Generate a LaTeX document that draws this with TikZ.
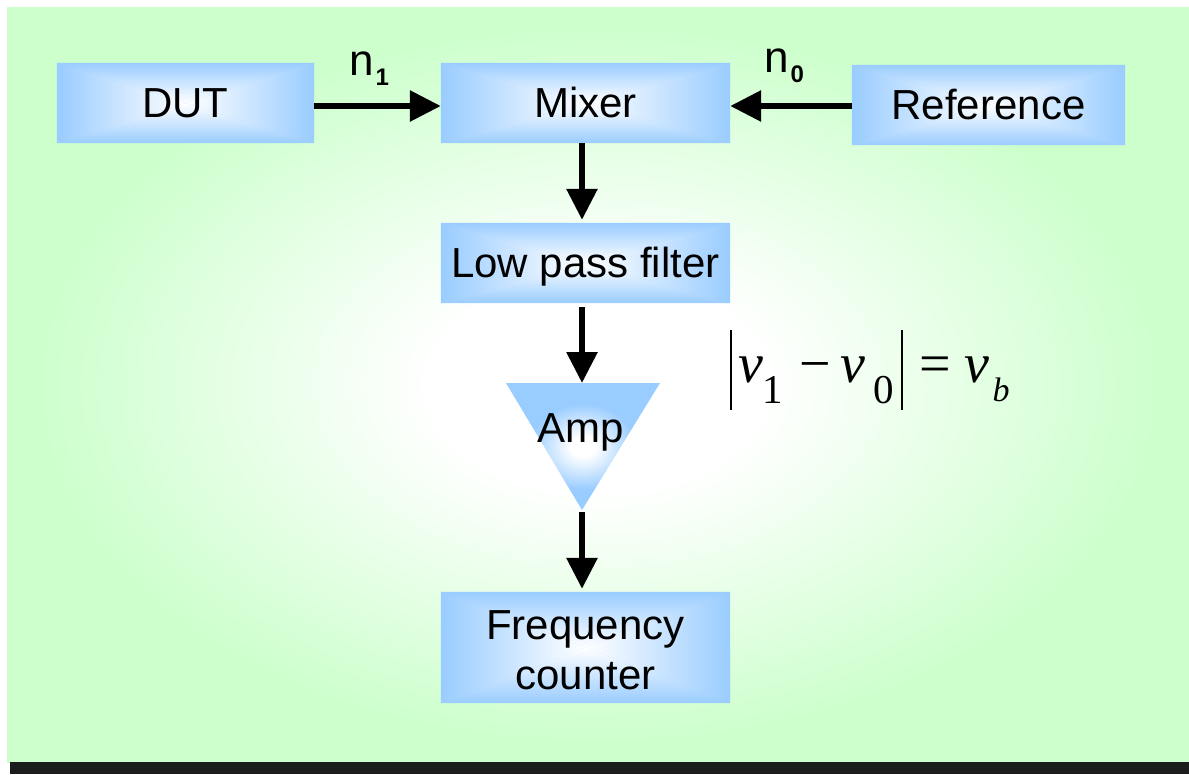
\documentclass[tikz,border=0pt]{standalone}
\usepackage{fontspec}
\setmainfont{Liberation Sans}
\newfontfamily\tnr{Liberation Serif}
\usetikzlibrary{arrows.meta}
\definecolor{bggreen}{HTML}{CCFFCC}
\definecolor{boxblue}{HTML}{99CCFF}
\definecolor{barblack}{HTML}{1C1C1C}
\pgfdeclareradialshading{bggrad}{\pgfpoint{0bp}{0bp}}{color(0bp)=(white); color(7bp)=(white); color(24bp)=(bggreen); color(50bp)=(bggreen)}
\pgfdeclareradialshading{ampgrad}{\pgfpoint{0bp}{0bp}}{color(0bp)=(white); color(4bp)=(white); color(17bp)=(boxblue); color(50bp)=(boxblue)}
\pgfdeclarelayer{back}
\pgfdeclarelayer{boxes}
\pgfsetlayers{back,boxes,main}
\newcommand\boxshade[1]{%
  \fill[boxblue] (#1.north west) rectangle (#1.south east);
  \shade[left color=boxblue, right color=white] (#1.north west) -- (#1.center) -- (#1.south west) -- cycle;
  \shade[left color=white, right color=boxblue] (#1.north east) -- (#1.center) -- (#1.south east) -- cycle;
  \shade[top color=white, bottom color=boxblue] (#1.south west) -- (#1.center) -- (#1.south east) -- cycle;
  \shade[top color=boxblue, bottom color=white] (#1.north west) -- (#1.center) -- (#1.north east) -- cycle;
}
\tikzset{
  gradbox/.style={inner sep=0pt, font=\fontsize{42}{50}\selectfont},
  oneline/.style={text height=30pt, text depth=2pt},
  arr/.style={line width=6pt, -{Triangle[length=31pt,width=30pt]}},
  lbl/.style={inner sep=0pt, anchor=base west, font=\fontsize{44}{50}\selectfont},
  eqbig/.style={inner sep=0pt, anchor=base, font=\tnr\fontsize{56}{60}\selectfont},
  eqsub/.style={inner sep=0pt, anchor=base, font=\tnr\fontsize{41}{48}\selectfont},
  eqbar/.style={line width=2.6pt}
}
\begin{document}
\begin{tikzpicture}[x=1pt,y=-1pt]
\useasboundingbox (0,0) rectangle (1189,774);
% background
\begin{pgfonlayer}{back}
\fill[white] (0,0) rectangle (1189,774);
\shade[shading=bggrad] (7,7) rectangle (1189,762);
\fill[barblack] (10,762) rectangle (1189,774);
\end{pgfonlayer}

% blocks
\node[gradbox, oneline, minimum width=257pt, minimum height=80pt] (dut) at (185.5,103) {DUT};
\node[gradbox, oneline, minimum width=289pt, minimum height=80pt] (mix) at (585.5,103) {Mixer};
\node[gradbox, oneline, minimum width=273pt, minimum height=80pt] (ref) at (988.5,105) {Reference};
\node[gradbox, oneline, minimum width=289pt, minimum height=80pt] (lpf) at (585.5,263) {Low pass filter};
\node[gradbox, align=center, text height=83pt, text depth=0pt, minimum width=289pt, minimum height=111pt] (fc) at (585.5,647.5) {Frequency\\counter};
\begin{pgfonlayer}{boxes}
\boxshade{dut}
\boxshade{mix}
\boxshade{ref}
\boxshade{lpf}
\boxshade{fc}
% amplifier
\shade[shading=ampgrad] (506,383) -- (660,383) -- (582,510) -- cycle;
\end{pgfonlayer}
\coordinate (ampin) at (582,383);
\coordinate (ampout) at (582,510);
\node[inner sep=0pt, oneline, font=\fontsize{42}{50}\selectfont] (amp) at (581,428) {Amp};

% connectors
\draw[arr] ([yshift=-3pt]dut.east) -- ([yshift=-3pt]mix.west);
\draw[arr] ([yshift=-1pt]ref.west) -- ([yshift=-3pt]mix.east);
\draw[arr, shorten >=3pt] ([xshift=-3.5pt]mix.south) -- ([xshift=-3.5pt]lpf.north);
\draw[arr, shorten <=4pt] ([xshift=-3.5pt]lpf.south) -- (ampin);
\draw[arr, shorten <=2pt, shorten >=3pt] (ampout) -- ([xshift=-3.5pt]fc.north);

% labels
\node[lbl] (n1) at (349,75) {n\kern2pt\raisebox{-10pt}{\fontsize{24}{26}\selectfont\bfseries 1}};
\node[lbl] (n0) at (764,72) {n\kern2pt\raisebox{-10pt}{\fontsize{24}{26}\selectfont\bfseries 0}};

% formula
\coordinate (bar1t) at (731,330); \coordinate (bar1b) at (731,410);
\coordinate (bar2t) at (902,330); \coordinate (bar2b) at (902,410);
\draw[eqbar] (bar1t) -- (bar1b);
\draw[eqbar] (bar2t) -- (bar2b);
\node[eqbig] (nu1) at (751,382) {\itshape ν};
\node[eqsub] (s1) at (773,403) {1};
\node[eqbig] (minus) at (815,382) {−};
\node[eqbig] (nu0) at (853,382) {\itshape ν};
\node[eqsub] (s0) at (884,403) {0};
\node[eqbig] (eq) at (935,382) {=};
\node[eqbig] (nub) at (977,382) {\itshape ν};
\node[eqsub, font=\tnr\fontsize{34}{38}\selectfont\itshape] (sb) at (1001,401) {b};
\end{tikzpicture}
\end{document}
